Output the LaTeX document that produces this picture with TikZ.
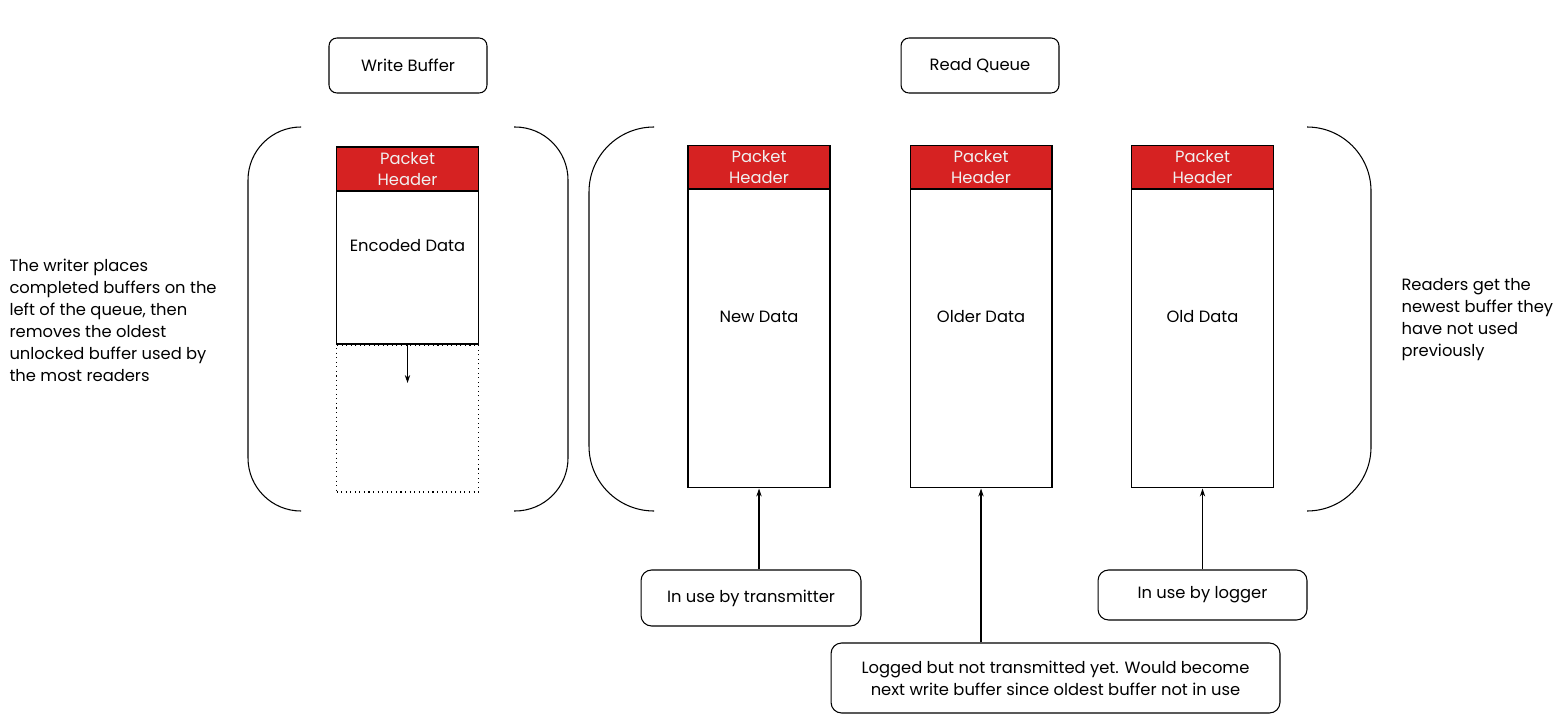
\documentclass[tikz,border=0pt]{standalone}
\usepackage{fontspec}
\setmainfont{Poppins}
\usetikzlibrary{positioning,arrows.meta}

\definecolor{hdrred}{HTML}{D62222}

\begin{document}
\begin{tikzpicture}[x=0.02cm, y=-0.02cm, line width=0.6pt,
    >={Stealth[length=4.5pt, width=3pt]},
    every node/.style={font=\fontsize{9.3}{12.5}\selectfont},
    titlebox/.style={draw, rounded corners=4.5pt, minimum width=3.16cm, minimum height=1.1cm},
    packet/.style={draw, fill=white, minimum width=2.84cm, inner sep=0pt},
    header/.style={draw, fill=hdrred, text=white!94!black, anchor=north,
        minimum width=2.84cm, minimum height=0.88cm, align=center, inner sep=0pt},
    slot/.style={draw, dotted, minimum width=2.84cm, minimum height=2.94cm, inner sep=0pt},
    note/.style={draw, rounded corners=6pt, align=center, inner sep=0pt},
    bracket/.style={rounded corners=#1}
]
    % Khung ảnh
    \useasboundingbox (0,0) rectangle (1557,716);

    % Tiêu đề
    \node[titlebox] (wtitle) at (408,65.5) {Write Buffer};
    \node[titlebox] (rtitle) at (980,65.5) {Read Queue};

    % Ngoặc của Write Buffer
    \draw[bracket=1.06cm] (301,127) -- (248,127) -- (248,511) -- (301,511);
    \draw[bracket=1.06cm] (514,127) -- (568,127) -- (568,511) -- (514,511);

    % Ngoặc của Read Queue
    \draw[bracket=1.3cm] (654,127) -- (589,127) -- (589,511) -- (654,511);
    \draw[bracket=1.28cm] (1307,127) -- (1371,127) -- (1371,511) -- (1307,511);

    % Bộ đệm ghi
    \node[packet, minimum height=3.94cm] (encpk) at (407.5,245.5) {Encoded Data};
    \node[header] (enchd) at (encpk.north) {Packet\\Header};
    \node[slot, below=0pt of encpk] (freeslot) {};
    \coordinate (drop) at (407.5,383);
    \draw[->] (encpk.south) -- (drop);

    % Hàng đợi đọc
    \node[packet, minimum height=6.86cm] (newpk) at (759,316.5) {New Data};
    \node[header] (newhd) at (newpk.north) {Packet\\Header};
    \node[packet, minimum height=6.86cm] (olderpk) at (981,316.5) {Older Data};
    \node[header] (olderhd) at (olderpk.north) {Packet\\Header};
    \node[packet, minimum height=6.86cm] (oldpk) at (1202.5,316.5) {Old Data};
    \node[header] (oldhd) at (oldpk.north) {Packet\\Header};

    % Chú thích hai bên
    \node[anchor=west, align=left, inner sep=0pt] (wrtext) at (9,320)
        {The writer places\\completed buffers on the\\left of the queue, then\\removes the oldest\\unlocked buffer used by\\the most readers};
    \node[anchor=west, align=left, inner sep=0pt] (rdtext) at (1401,320)
        {Readers get the\\newest buffer they\\have not used\\previously};

    % Ghi chú bên dưới
    \node[note, minimum width=4.4cm, minimum height=1.12cm] (txnote) at (751,598) {In use by transmitter};
    \node[note, minimum width=4.18cm, minimum height=1.0cm] (lognote) at (1202.5,595) {In use by logger};
    \node[note, minimum width=8.98cm, minimum height=1.4cm] (waitnote) at (1055.5,678)
        {Logged but not transmitted yet. Would become\\next write buffer since oldest buffer not in use};

    % Mũi tên
    \draw[->] (newpk.south |- txnote.north) -- (newpk.south);
    \draw[->] (olderpk.south |- waitnote.north) -- (olderpk.south);
    \draw[->] (oldpk.south |- lognote.north) -- (oldpk.south);

\end{tikzpicture}
\end{document}
